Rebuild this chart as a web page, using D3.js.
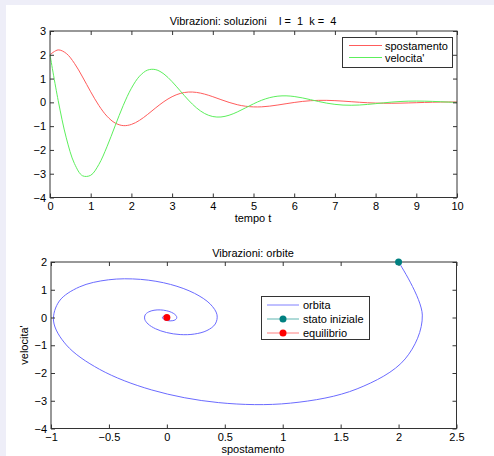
<!DOCTYPE html>
<html>
<head>
<meta charset="utf-8">
<script src="https://cdn.jsdelivr.net/npm/d3@7"></script>
<style>
  body { margin: 0; background: #eeeef8; }
  svg { display: block; }
  text { font-family: "Liberation Sans", Arial, sans-serif; fill: #000; }
</style>
</head>
<body>
<svg width="494" height="456"></svg>
<script>
// time samples (step 0.2)
var tempo = d3.range(51).map(function(i) { return +(i * 0.2).toFixed(1); });

var spostamento = [
  2.000, 2.205, 2.057, 1.642, 1.067, 0.444, -0.130, -0.582, -0.868, -0.978,
  -0.928, -0.755, -0.505, -0.227, 0.032, 0.239, 0.375, 0.433, 0.418, 0.346,
  0.238, 0.115, -0.002, -0.098, -0.162, -0.191, -0.188, -0.158, -0.111, -0.057,
  -0.005, 0.039, 0.069, 0.084, 0.084, 0.072, 0.052, 0.028, 0.005, -0.016,
  -0.030, -0.037, -0.038, -0.033, -0.024, -0.014, -0.003, 0.006, 0.013, 0.016,
  0.017
];

var velocita = [
  2.000, 0.087, -1.492, -2.571, -3.086, -3.066, -2.612, -1.865, -0.988, -0.128,
  0.593, 1.101, 1.358, 1.374, 1.191, 0.870, 0.483, 0.097, -0.233, -0.470,
  -0.596, -0.615, -0.542, -0.405, -0.235, -0.062, 0.089, 0.199, 0.261, 0.274,
  0.246, 0.188, 0.113, 0.036, -0.033, -0.084, -0.114, -0.122, -0.112, -0.087,
  -0.054, -0.020, 0.012, 0.035, 0.050, 0.054, 0.050, 0.040, 0.026, 0.010,
  -0.004
];

var ticksT = d3.range(0, 11);
var ticksY1 = d3.range(-4, 4);
var ticksX2 = [-1, -0.5, 0, 0.5, 1, 1.5, 2, 2.5];
var ticksY2 = d3.range(-4, 3);

var statoIniziale = [2, 2];
var equilibrio = [0, 0];

var svg = d3.select("svg");
var fmt = d3.format("~g");

// page frame
svg.append("rect").attr("x", 0).attr("y", 0).attr("width", 494).attr("height", 456).attr("fill", "#eeeef8");
svg.append("rect").attr("x", 6).attr("y", 5).attr("width", 488).attr("height", 451).attr("fill", "#fff");

function frame(g, x, y, xticks, yticks) {
  var x0 = x.range()[0], x1 = x.range()[1], y0 = y.range()[0], y1 = y.range()[1];
  g.append("g").attr("transform", "translate(0," + y0 + ")")
    .call(d3.axisBottom(x).tickValues(xticks).tickFormat(fmt).tickSize(-4).tickPadding(5));
  g.append("g").attr("transform", "translate(0," + y1 + ")")
    .call(d3.axisTop(x).tickValues(xticks).tickFormat("").tickSize(-4));
  g.append("g").attr("transform", "translate(" + x0 + ",0)")
    .call(d3.axisLeft(y).tickValues(yticks).tickFormat(fmt).tickSize(-4).tickPadding(4));
  g.append("g").attr("transform", "translate(" + x1 + ",0)")
    .call(d3.axisRight(y).tickValues(yticks).tickFormat("").tickSize(-4));
  g.selectAll(".domain").remove();
  g.selectAll(".tick line").attr("stroke", "#333");
  g.selectAll(".tick text").attr("font-size", 11).attr("font-family", "Liberation Sans, Arial, sans-serif").attr("fill", "#000");
  g.append("rect").attr("x", x0).attr("y", y1).attr("width", x1 - x0).attr("height", y0 - y1)
    .attr("fill", "none").attr("stroke", "#333").attr("stroke-width", 1);
}

// ---- top: soluzioni ----
var x1 = d3.scaleLinear().domain([0, 10]).range([50, 457]);
var y1 = d3.scaleLinear().domain([-4, 3]).range([197.5, 31]);
var g1 = svg.append("g");
g1.append("rect").attr("x", 50).attr("y", 31).attr("width", 407).attr("height", 166.5).attr("fill", "#fff");

var lineS = d3.line().curve(d3.curveCatmullRom)
  .x(function(d, i) { return x1(tempo[i]); })
  .y(function(d) { return y1(d); });

g1.append("path").datum(spostamento).attr("d", lineS)
  .attr("fill", "none").attr("stroke", "#ff5c5c").attr("stroke-width", 1);
g1.append("path").datum(velocita).attr("d", lineS)
  .attr("fill", "none").attr("stroke", "#5cef5c").attr("stroke-width", 1);

frame(g1, x1, y1, ticksT, ticksY1);

svg.append("text").attr("x", 253).attr("y", 25).attr("text-anchor", "middle")
  .attr("font-size", 11).style("white-space", "pre")
  .text("Vibrazioni: soluzioni    l =  1  k =  4");
svg.append("text").attr("x", 253).attr("y", 222).attr("text-anchor", "middle")
  .attr("font-size", 11).text("tempo t");

// legend top
var leg1 = svg.append("g");
leg1.append("rect").attr("x", 342.5).attr("y", 37.5).attr("width", 110).attr("height", 30)
  .attr("fill", "#fff").attr("stroke", "#333");
[["spostamento", "#ff5c5c"], ["velocita'", "#5cef5c"]].forEach(function(d, i) {
  var yy = 45.5 + i * 12;
  leg1.append("line").attr("x1", 349).attr("x2", 382).attr("y1", yy).attr("y2", yy)
    .attr("stroke", d[1]).attr("stroke-width", 1);
  leg1.append("text").attr("x", 385).attr("y", yy + 4).attr("font-size", 11).text(d[0]);
});

// ---- bottom: orbite ----
var x2 = d3.scaleLinear().domain([-1, 2.5]).range([51, 456.5]);
var y2 = d3.scaleLinear().domain([-4, 2]).range([428.5, 262]);
var g2 = svg.append("g");

var lineO = d3.line().curve(d3.curveCatmullRom)
  .x(function(d, i) { return x2(spostamento[i]); })
  .y(function(d, i) { return y2(velocita[i]); });

g2.append("path").datum(spostamento).attr("d", lineO)
  .attr("fill", "none").attr("stroke", "#6b6bff").attr("stroke-width", 1);

frame(g2, x2, y2, ticksX2, ticksY2);

g2.append("circle").attr("cx", x2(statoIniziale[0])).attr("cy", y2(statoIniziale[1])).attr("r", 3.5)
  .attr("fill", "#008080");
g2.append("circle").attr("cx", x2(equilibrio[0])).attr("cy", y2(equilibrio[1])).attr("r", 3.5)
  .attr("fill", "#ff0000");

svg.append("text").attr("x", 253).attr("y", 257).attr("text-anchor", "middle")
  .attr("font-size", 11).text("Vibrazioni: orbite");
svg.append("text").attr("x", 253).attr("y", 453).attr("text-anchor", "middle")
  .attr("font-size", 11).text("spostamento");
svg.append("text").attr("transform", "translate(28,345) rotate(-90)").attr("text-anchor", "middle")
  .attr("font-size", 11).text("velocita'");

// legend bottom
var leg2 = svg.append("g");
leg2.append("rect").attr("x", 261.5).attr("y", 296.5).attr("width", 108).attr("height", 43)
  .attr("fill", "#fff").attr("stroke", "#333");
[["orbita", "#8080ff", null], ["stato iniziale", "#5fb5b0", "#008080"], ["equilibrio", "#ff8080", "#ff0000"]].forEach(function(d, i) {
  var yy = 305 + i * 14;
  leg2.append("line").attr("x1", 267).attr("x2", 299).attr("y1", yy).attr("y2", yy)
    .attr("stroke", d[1]).attr("stroke-width", 1);
  if (d[2]) leg2.append("circle").attr("cx", 283).attr("cy", yy).attr("r", 3.5).attr("fill", d[2]);
  leg2.append("text").attr("x", 303).attr("y", yy + 4).attr("font-size", 11).text(d[0]);
});
</script>
</body>
</html>
